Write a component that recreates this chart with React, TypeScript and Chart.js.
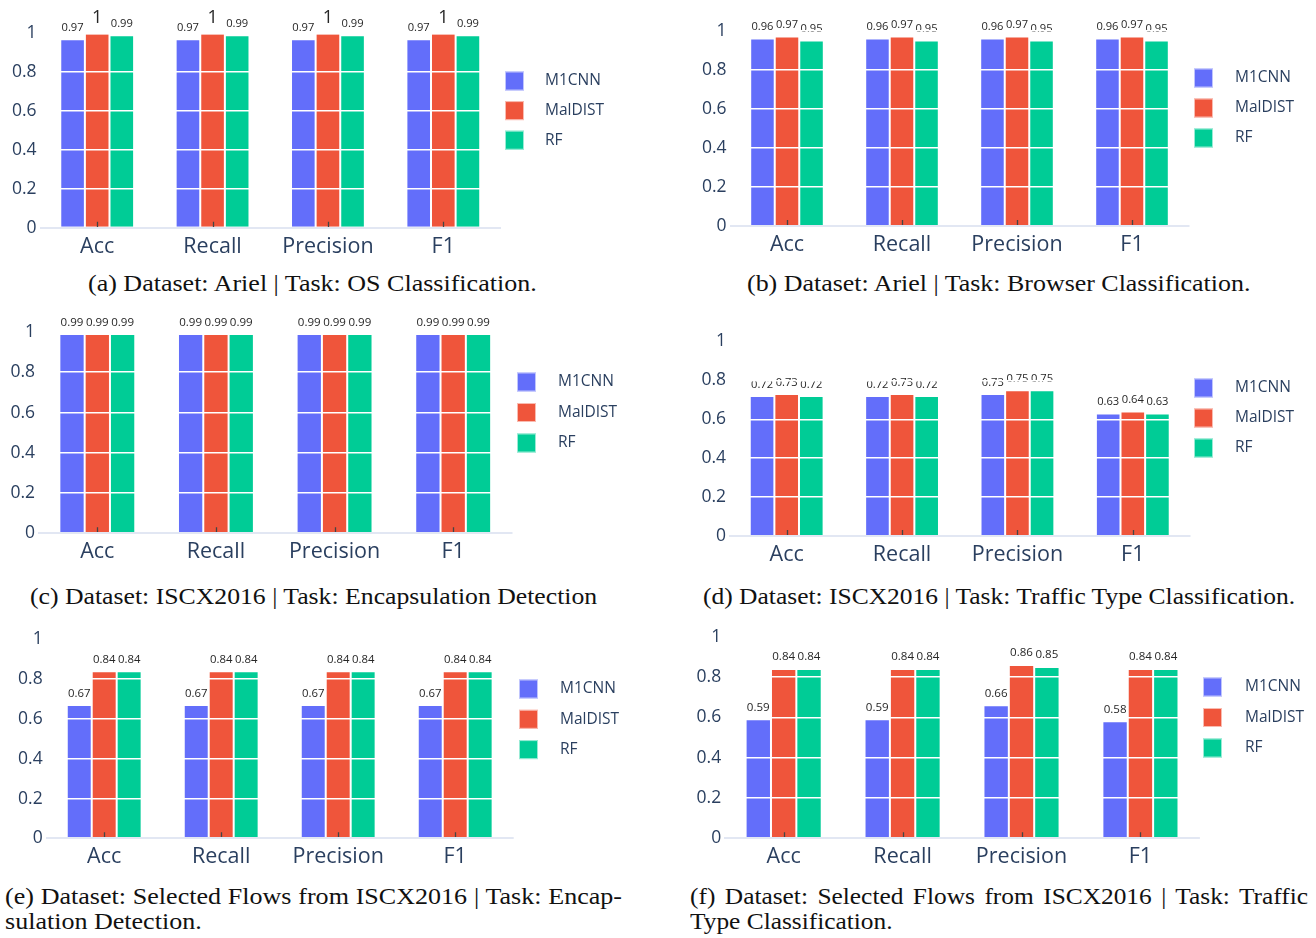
import React, { useEffect, useLayoutEffect, useRef, useState } from 'react';
import { Chart, registerables } from 'chart.js';

Chart.register(...registerables);

// ---------- data ----------
const categories = ['Acc', 'Recall', 'Precision', 'F1'];
const seriesNames = ['M1CNN', 'MalDIST', 'RF'];
const seriesColors = ['#636EFA', '#EF553B', '#00CC96'];
const yTickValues = [0, 0.2, 0.4, 0.6, 0.8, 1];

// (a) Ariel | OS Classification
const osM1cnn = [0.97, 0.97, 0.97, 0.97];
const osMaldist = [1, 1, 1, 1];
const osRf = [0.99, 0.99, 0.99, 0.99];
// (b) Ariel | Browser Classification
const browserM1cnn = [0.96, 0.96, 0.96, 0.96];
const browserMaldist = [0.97, 0.97, 0.97, 0.97];
const browserRf = [0.95, 0.95, 0.95, 0.95];
// (c) ISCX2016 | Encapsulation Detection
const encapM1cnn = [0.99, 0.99, 0.99, 0.99];
const encapMaldist = [0.99, 0.99, 0.99, 0.99];
const encapRf = [0.99, 0.99, 0.99, 0.99];
// (d) ISCX2016 | Traffic Type Classification
const trafficM1cnn = [0.72, 0.72, 0.73, 0.63];
const trafficMaldist = [0.73, 0.73, 0.75, 0.64];
const trafficRf = [0.72, 0.72, 0.75, 0.63];
// (e) Selected Flows | Encapsulation Detection
const selEncapM1cnn = [0.67, 0.67, 0.67, 0.67];
const selEncapMaldist = [0.84, 0.84, 0.84, 0.84];
const selEncapRf = [0.84, 0.84, 0.84, 0.84];
// (f) Selected Flows | Traffic Type Classification
const selTrafficM1cnn = [0.59, 0.59, 0.66, 0.58];
const selTrafficMaldist = [0.84, 0.84, 0.86, 0.84];
const selTrafficRf = [0.84, 0.84, 0.85, 0.84];

const captionA = ['(a) Dataset: Ariel | Task: OS Classification.'];
const captionB = ['(b) Dataset: Ariel | Task: Browser Classification.'];
const captionC = ['(c) Dataset: ISCX2016 | Task: Encapsulation Detection'];
const captionD = ['(d) Dataset: ISCX2016 | Task: Traffic Type Classification.'];
const captionE = ['(e) Dataset: Selected Flows from ISCX2016 | Task: Encap-', 'sulation Detection.'];
const captionF = ['(f) Dataset: Selected Flows from ISCX2016 | Task: Traffic', 'Type Classification.'];

// ---------- layout (page pixels) ----------
type Layout = {
  left: number; top: number; width: number; height: number;
  plotL: number; plotR: number; y1: number; y0: number;
  legX: number; legY: number; legGap: number; legText: number;
  capLeft: number; capTop: number; capWidth: number; capFitLine: number; capFitWidth: number;
};

const layoutA: Layout = { left: 0, top: 0, width: 660, height: 262, plotL: 39.5, plotR: 501, y1: 33.3, y0: 227.7, legX: 505, legY: 81, legGap: 29.6, legText: 40, capLeft: 88, capTop: 270.5, capWidth: 449, capFitLine: 0, capFitWidth: 449 };
const layoutB: Layout = { left: 660, top: 0, width: 656, height: 262, plotL: 729.5, plotR: 1189.5, y1: 30.7, y0: 226, legX: 1194, legY: 78, legGap: 30, legText: 41, capLeft: 747, capTop: 270.5, capWidth: 504, capFitLine: 0, capFitWidth: 504 };
const layoutC: Layout = { left: 0, top: 300, width: 660, height: 272, plotL: 38, plotR: 512.5, y1: 332, y0: 533.3, legX: 517, legY: 382, legGap: 30.5, legText: 41, capLeft: 30, capTop: 583.5, capWidth: 567, capFitLine: 0, capFitWidth: 567 };
const layoutD: Layout = { left: 660, top: 300, width: 656, height: 272, plotL: 729, plotR: 1190.5, y1: 341.5, y0: 536, legX: 1194, legY: 388, legGap: 30, legText: 41, capLeft: 703, capTop: 583.5, capWidth: 592, capFitLine: 0, capFitWidth: 592 };
const layoutE: Layout = { left: 0, top: 610, width: 660, height: 272, plotL: 45.7, plotR: 513.7, y1: 639.5, y0: 838.3, legX: 519, legY: 689, legGap: 30.3, legText: 41, capLeft: 5, capTop: 883.5, capWidth: 617, capFitLine: 1, capFitWidth: 197 };
const layoutF: Layout = { left: 660, top: 610, width: 656, height: 272, plotL: 724.2, plotR: 1199.9, y1: 636.7, y0: 838.3, legX: 1203, legY: 687, legGap: 30.5, legText: 42, capLeft: 690, capTop: 883.5, capWidth: 618, capFitLine: 1, capFitWidth: 203 };

const panels = [
  { series: [osM1cnn, osMaldist, osRf], caption: captionA, layout: layoutA },
  { series: [browserM1cnn, browserMaldist, browserRf], caption: captionB, layout: layoutB },
  { series: [encapM1cnn, encapMaldist, encapRf], caption: captionC, layout: layoutC },
  { series: [trafficM1cnn, trafficMaldist, trafficRf], caption: captionD, layout: layoutD },
  { series: [selEncapM1cnn, selEncapMaldist, selEncapRf], caption: captionE, layout: layoutE },
  { series: [selTrafficM1cnn, selTrafficMaldist, selTrafficRf], caption: captionF, layout: layoutF },
];

const FONT = '"Open Sans"';
const AXIS_TEXT = '#2a3f5f';

// ---------- plugins ----------
const barValueLabels = {
  id: 'barValueLabels',
  afterDatasetsDraw(chart: any) {
    const ctx = chart.ctx;
    ctx.save();
    chart.data.datasets.forEach((ds: any, di: number) => {
      const meta = chart.getDatasetMeta(di);
      meta.data.forEach((bar: any, i: number) => {
        const text = String(ds.data[i]);
        const { x, y, width } = bar.getProps(['x', 'y', 'width'], true);
        ctx.font = `18px ${FONT}`;
        const w18 = ctx.measureText(text).width;
        const size = Math.min(18, (18 * (width - 2.5)) / w18);
        ctx.font = `${size}px ${FONT}`;
        ctx.fillStyle = '#262626';
        ctx.textAlign = 'center';
        ctx.textBaseline = 'alphabetic';
        ctx.fillText(text, x, y - 5 - 0.3 * size);
      });
    });
    ctx.restore();
  },
};

const insideTicks = {
  id: 'insideTicks',
  afterDatasetsDraw(chart: any) {
    const ctx = chart.ctx;
    const xs = chart.scales.x;
    const bottom = chart.chartArea.bottom;
    ctx.save();
    ctx.strokeStyle = '#444444';
    ctx.lineWidth = 1.3;
    ctx.beginPath();
    for (let i = 0; i < chart.data.labels.length; i++) {
      const px = Math.round(xs.getPixelForValue(i)) + 0.5;
      ctx.moveTo(px, bottom);
      ctx.lineTo(px, bottom - 6);
    }
    ctx.stroke();
    ctx.restore();
  },
};

function makeSideLegend(L: Layout) {
  return {
    id: 'sideLegend',
    afterDraw(chart: any) {
      const ctx = chart.ctx;
      const x = L.legX - L.left;
      const y0 = L.legY - L.top;
      const box = 19;
      ctx.save();
      chart.data.datasets.forEach((ds: any, i: number) => {
        const cy = y0 + i * L.legGap;
        ctx.fillStyle = ds.backgroundColor;
        ctx.fillRect(x, cy - box / 2, box, box);
        ctx.strokeStyle = 'rgba(255,255,255,0.6)';
        ctx.lineWidth = 1;
        ctx.strokeRect(x + 0.5, cy - box / 2 + 0.5, box - 1, box - 1);
        ctx.font = `15.5px ${FONT}`;
        ctx.fillStyle = AXIS_TEXT;
        ctx.textAlign = 'left';
        ctx.textBaseline = 'middle';
        ctx.fillText(ds.label, x + L.legText, cy);
      });
      ctx.restore();
    },
  };
}

// ---------- components ----------
function BarPanel({ series, layout }: { series: number[][]; layout: Layout }) {
  const ref = useRef<HTMLCanvasElement>(null);
  useEffect(() => {
    let chart: any = null;
    let cancelled = false;
    const L = layout;
    const make = () => {
      if (cancelled || !ref.current) return;
      chart = new Chart(ref.current, {
        type: 'bar',
        data: {
          labels: categories,
          datasets: series.map((data, i) => ({
            label: seriesNames[i],
            data,
            backgroundColor: seriesColors[i],
            borderColor: 'rgba(255,255,255,0.85)',
            borderWidth: 1,
            categoryPercentage: 0.64,
            barPercentage: 1,
          })),
        },
        options: {
          animation: false,
          responsive: false,
          maintainAspectRatio: false,
          events: [],
          layout: {
            padding: { left: 0, top: L.y1 - L.top, right: L.left + L.width - L.plotR, bottom: 0 },
          },
          plugins: { legend: { display: false }, tooltip: { enabled: false } },
          scales: {
            x: {
              afterFit: (s: any) => { s.height = L.top + L.height - L.y0; },
              grid: { display: false, drawTicks: false },
              border: { display: false },
              ticks: { padding: 6, color: AXIS_TEXT, font: { family: 'Open Sans', size: 21.5 }, maxRotation: 0, autoSkip: false },
            },
            y: {
              min: 0,
              max: 1,
              afterBuildTicks: (s: any) => { s.ticks = yTickValues.map((v) => ({ value: v })); },
              afterFit: (s: any) => { s.width = L.plotL - L.left; },
              grid: {
                z: 1,
                drawTicks: false,
                color: (c: any) => (c.tick && c.tick.value === 0 ? '#E2E7F3' : '#FFFFFF'),
                lineWidth: (c: any) => (c.tick && c.tick.value === 0 ? 2 : 1.6),
              },
              border: { display: false },
              ticks: { padding: 3, color: AXIS_TEXT, font: { family: 'Open Sans', size: 17.5 }, callback: (v: any) => String(v) },
            },
          },
        } as any,
        plugins: [barValueLabels, insideTicks, makeSideLegend(L)],
      });
    };
    Promise.all([
      document.fonts.load(`17px ${FONT}`),
      document.fonts.load(`23px "Liberation Serif"`),
    ]).then(make, make);
    return () => {
      cancelled = true;
      if (chart) chart.destroy();
    };
  }, []);
  return (
    <canvas
      ref={ref}
      width={layout.width}
      height={layout.height}
      style={{ position: 'absolute', left: layout.left, top: layout.top, width: layout.width, height: layout.height }}
    />
  );
}

function Caption({ lines, layout }: { lines: string[]; layout: Layout }) {
  const fitRef = useRef<HTMLSpanElement>(null);
  const [scale, setScale] = useState(1.15);
  useLayoutEffect(() => {
    let alive = true;
    const measure = () => {
      if (alive && fitRef.current) {
        const w = fitRef.current.offsetWidth;
        if (w > 0) setScale(layout.capFitWidth / w);
      }
    };
    measure();
    document.fonts.ready.then(measure);
    return () => { alive = false; };
  }, []);
  return (
    <div
      style={{
        position: 'absolute',
        left: layout.capLeft,
        top: layout.capTop,
        transform: `scaleX(${scale})`,
        transformOrigin: 'left top',
        fontFamily: '"Liberation Serif", serif',
        fontSize: 23,
        lineHeight: '25px',
        color: '#111',
        whiteSpace: 'nowrap',
      }}
    >
      {lines.map((line, i) => {
        const justified = lines.length > 1 && i < lines.length - 1;
        if (justified) {
          return (
            <div key={i} style={{ width: layout.capWidth / scale, textAlign: 'justify', textAlignLast: 'justify', whiteSpace: 'normal' } as any}>
              {line}
            </div>
          );
        }
        return (
          <div key={i}>
            <span ref={i === layout.capFitLine ? fitRef : undefined} style={{ display: 'inline-block' }}>
              {line}
            </span>
          </div>
        );
      })}
    </div>
  );
}

export default function App() {
  return (
    <div style={{ position: 'absolute', left: 0, top: 0, width: 1316, height: 938, background: '#fff', overflow: 'hidden' }}>
      {panels.map((p, i) => (
        <React.Fragment key={i}>
          <BarPanel series={p.series} layout={p.layout} />
          <Caption lines={p.caption} layout={p.layout} />
        </React.Fragment>
      ))}
    </div>
  );
}
